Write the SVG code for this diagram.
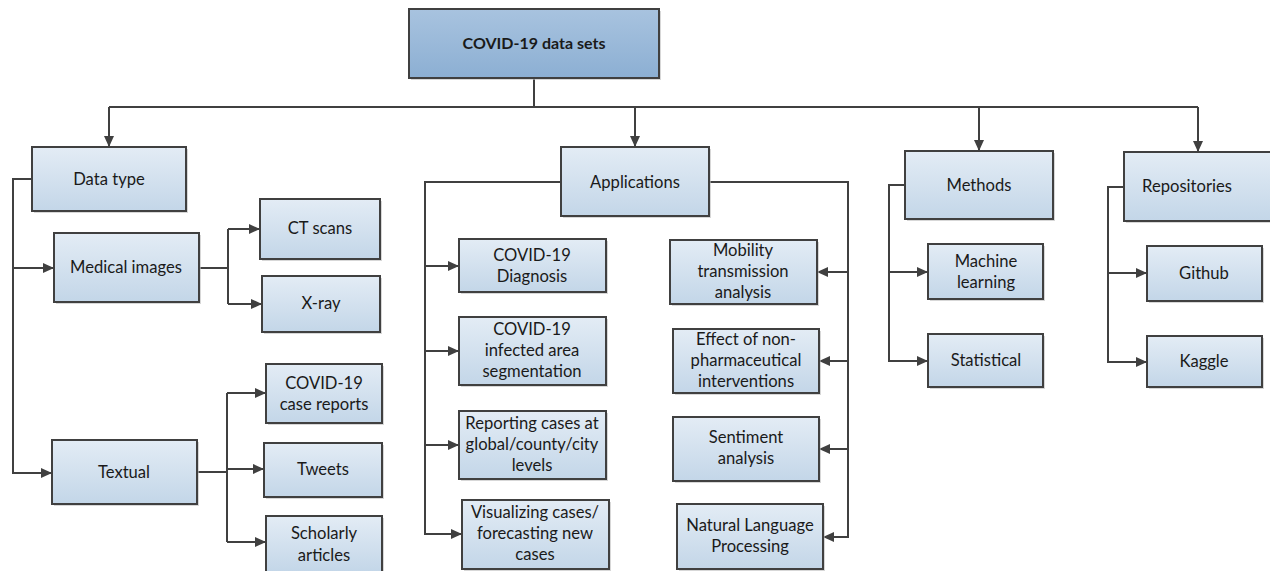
<svg xmlns="http://www.w3.org/2000/svg" width="1270" height="571" viewBox="0 0 1270 571">
<defs>
<linearGradient id="g" x1="0" y1="0" x2="0" y2="1">
<stop offset="0" stop-color="#e3ecf5"/>
<stop offset="1" stop-color="#c3d6e8"/>
</linearGradient>
<linearGradient id="gr" x1="0" y1="0" x2="0" y2="1">
<stop offset="0" stop-color="#a8c3df"/>
<stop offset="1" stop-color="#8cafd3"/>
</linearGradient>
<marker id="a" markerWidth="12" markerHeight="10" refX="11" refY="5" orient="auto" markerUnits="userSpaceOnUse">
<path d="M0,0 L11,5 L0,10 Z" fill="#404040"/>
</marker>
</defs>
<style>
.b{fill:url(#g);stroke:#404040;stroke-width:2}
.r{fill:url(#gr);stroke:#404040;stroke-width:2}
.s{fill:#bdbdbd;opacity:0.6}
text{font-family:Lato,"Liberation Sans",sans-serif;font-size:16.6px;fill:#1a1a1a;text-anchor:middle}
.t{font-weight:bold;font-size:16px}
.c path{fill:none;stroke:#404040;stroke-width:2}
.c .ar{marker-end:url(#a)}
</style>
<rect width="1270" height="571" fill="#ffffff"/>
<g class="c" id="connectors">
<path d="M534 78 V107 M109 107 H1198"/>
<path class="ar" d="M109 107 V147"/>
<path class="ar" d="M635 107 V147"/>
<path class="ar" d="M979 107 V151"/>
<path class="ar" d="M1198 107 V152"/>
<path class="ar" d="M32 179 H13 V473 H52"/>
<path class="ar" d="M13 268 H54"/>
<path d="M199 268 H228 M228 229 V304"/>
<path class="ar" d="M228 229 H260"/>
<path class="ar" d="M228 304 H262"/>
<path d="M197 472 H227 M227 393 V542"/>
<path class="ar" d="M227 393 H266"/>
<path class="ar" d="M227 469 H264"/>
<path class="ar" d="M227 542 H266"/>
<path class="ar" d="M561 182 H425 V534 H462"/>
<path class="ar" d="M425 266 H459"/>
<path class="ar" d="M425 351 H459"/>
<path class="ar" d="M425 445 H459"/>
<path class="ar" d="M709 182 H848 V537 H823"/>
<path class="ar" d="M848 272 H817"/>
<path class="ar" d="M848 361 H819"/>
<path class="ar" d="M848 449 H819"/>
<path class="ar" d="M905 185 H889 V361 H928"/>
<path class="ar" d="M889 272 H928"/>
<path class="ar" d="M1124 187 H1108 V362 H1147"/>
<path class="ar" d="M1108 273 H1147"/>
</g>
<g id="root"><rect class="s" x="411" y="11" width="250" height="69"/><rect class="r" x="409" y="9" width="250" height="69"/><text class="t" x="534" y="49">COVID-19 data sets</text></g>
<g id="datatype"><rect class="s" x="34" y="149" width="154" height="64"/><rect class="b" x="32" y="147" width="154" height="64"/><text x="109" y="185">Data type</text></g>
<g id="medical"><rect class="s" x="56" y="235" width="145" height="69"/><rect class="b" x="54" y="233" width="145" height="69"/><text x="126" y="273">Medical images</text></g>
<g id="ct"><rect class="s" x="262" y="201" width="120" height="60"/><rect class="b" x="260" y="199" width="120" height="60"/><text x="320" y="234">CT scans</text></g>
<g id="xray"><rect class="s" x="264" y="278" width="118" height="56"/><rect class="b" x="262" y="276" width="118" height="56"/><text x="321" y="309">X-ray</text></g>
<g id="textual"><rect class="s" x="54" y="442" width="145" height="64"/><rect class="b" x="52" y="440" width="145" height="64"/><text x="124" y="478">Textual</text></g>
<g id="casereports"><rect class="s" x="268" y="366" width="116" height="59"/><rect class="b" x="266" y="364" width="116" height="59"/><text x="324" y="389">COVID-19</text><text x="324" y="410">case reports</text></g>
<g id="tweets"><rect class="s" x="266" y="445" width="118" height="54"/><rect class="b" x="264" y="443" width="118" height="54"/><text x="323" y="475">Tweets</text></g>
<g id="scholarly"><rect class="s" x="268" y="518" width="116" height="56"/><rect class="b" x="266" y="516" width="116" height="56"/><text x="324" y="539">Scholarly</text><text x="324" y="561">articles</text></g>
<g id="applications"><rect class="s" x="563" y="149" width="148" height="69"/><rect class="b" x="561" y="147" width="148" height="69"/><text x="635" y="188">Applications</text></g>
<g id="diagnosis"><rect class="s" x="461" y="241" width="147" height="53"/><rect class="b" x="459" y="239" width="147" height="53"/><text x="532" y="261">COVID-19</text><text x="532" y="282">Diagnosis</text></g>
<g id="segmentation"><rect class="s" x="461" y="319" width="147" height="68"/><rect class="b" x="459" y="317" width="147" height="68"/><text x="532" y="335">COVID-19</text><text x="532" y="356">infected area</text><text x="532" y="377">segmentation</text></g>
<g id="reporting"><rect class="s" x="461" y="413" width="147" height="68"/><rect class="b" x="459" y="411" width="147" height="68"/><text x="532" y="429">Reporting cases at</text><text x="532" y="450">global/county/city</text><text x="532" y="471">levels</text></g>
<g id="visualizing"><rect class="s" x="464" y="502" width="147" height="69"/><rect class="b" x="462" y="500" width="147" height="69"/><text x="535" y="518">Visualizing  cases/</text><text x="535" y="539">forecasting new</text><text x="535" y="560">cases</text></g>
<g id="mobility"><rect class="s" x="672" y="242" width="147" height="64"/><rect class="b" x="670" y="240" width="147" height="64"/><text x="743" y="256">Mobility</text><text x="743" y="277">transmission</text><text x="743" y="298">analysis</text></g>
<g id="npi"><rect class="s" x="675" y="331" width="146" height="64"/><rect class="b" x="673" y="329" width="146" height="64"/><text x="746" y="345">Effect of non-</text><text x="746" y="366">pharmaceutical</text><text x="746" y="387">interventions</text></g>
<g id="sentiment"><rect class="s" x="675" y="419" width="146" height="64"/><rect class="b" x="673" y="417" width="146" height="64"/><text x="746" y="443">Sentiment</text><text x="746" y="464">analysis</text></g>
<g id="nlp"><rect class="s" x="679" y="506" width="146" height="65"/><rect class="b" x="677" y="504" width="146" height="65"/><text x="750" y="531">Natural Language</text><text x="750" y="552">Processing</text></g>
<g id="methods"><rect class="s" x="907" y="153" width="148" height="68"/><rect class="b" x="905" y="151" width="148" height="68"/><text x="979" y="191">Methods</text></g>
<g id="ml"><rect class="s" x="930" y="246" width="115" height="55"/><rect class="b" x="928" y="244" width="115" height="55"/><text x="986" y="267">Machine</text><text x="986" y="288">learning</text></g>
<g id="statistical"><rect class="s" x="930" y="336" width="115" height="53"/><rect class="b" x="928" y="334" width="115" height="53"/><text x="986" y="366">Statistical</text></g>
<g id="repositories"><rect class="s" x="1126" y="154" width="148" height="69"/><rect class="b" x="1124" y="152" width="148" height="69"/><text x="1187" y="192">Repositories</text></g>
<g id="github"><rect class="s" x="1149" y="248" width="115" height="55"/><rect class="b" x="1147" y="246" width="115" height="55"/><text x="1204" y="279">Github</text></g>
<g id="kaggle"><rect class="s" x="1149" y="338" width="115" height="51"/><rect class="b" x="1147" y="336" width="115" height="51"/><text x="1204" y="367">Kaggle</text></g>
</svg>
